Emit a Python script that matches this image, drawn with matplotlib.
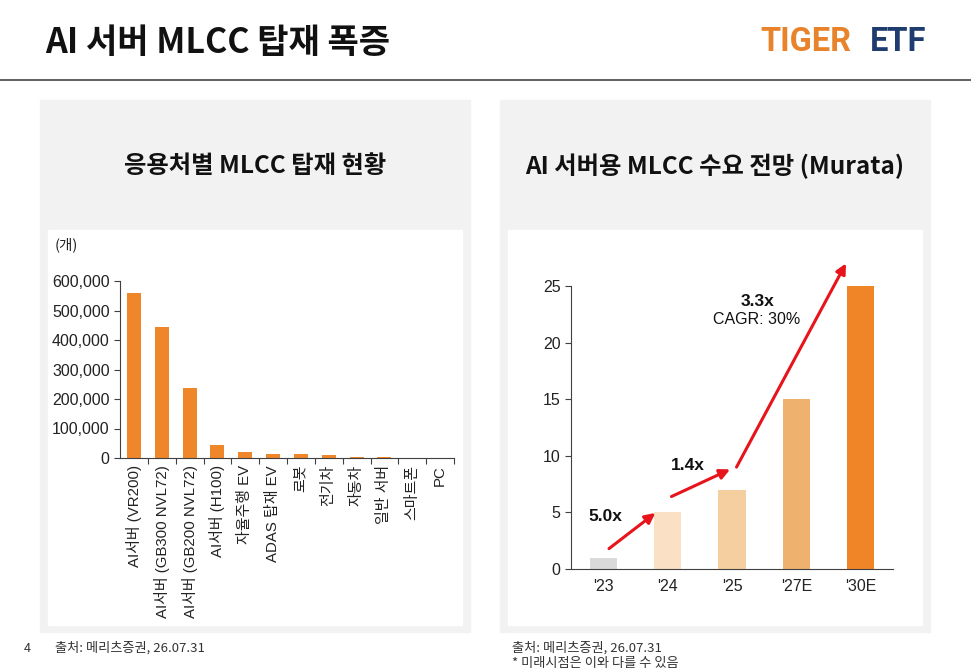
"""AI 서버 MLCC 탑재 폭증 - two bar charts on a slide layout."""

import matplotlib
import matplotlib.pyplot as plt
from matplotlib.patches import Rectangle
from matplotlib.ticker import FuncFormatter

matplotlib.use("Agg")

plt.rcParams["font.family"] = ["Noto Sans CJK KR", "DejaVu Sans"]

# ---------------------------------------------------------------------------
# Data
# ---------------------------------------------------------------------------

APP_LABELS = [
    "AI서버 (VR200)", "AI서버 (GB300 NVL72)", "AI서버 (GB200 NVL72)", "AI서버 (H100)",
    "자율주행 EV", "ADAS 탑재 EV", "로봇", "전기차", "자동차", "일반 서버", "스마트폰", "PC",
]
APP_VALUES = [560000, 443000, 236000, 45000, 20000, 15000, 15000, 11000, 3000, 2000, 500, 200]
APP_TICKS = [0, 100000, 200000, 300000, 400000, 500000, 600000]

YEARS = ["'23", "'24", "'25", "'27E", "'30E"]
DEMAND = [1, 5, 7, 15, 25]
DEMAND_COLOURS = ["#d9d9d9", "#fae0c4", "#f6cfa1", "#efb26e", "#f08528"]
DEMAND_TICKS = [0, 5, 10, 15, 20, 25]

# growth arrows: (x0, y0, x1, y1) in data units, label, label position
ARROWS = [(0.09, 1.8, 0.81, 4.95), (1.06, 6.4, 1.97, 8.8), (2.07, 9.0, 3.77, 27.0)]
ARROW_TEXT = [("5.0x", 0.03, 4.6), ("1.4x", 1.32, 9.1), ("3.3x", 2.39, 23.6), ("CAGR: 30%", 2.39, 22.0)]

ORANGE = "#f0862a"
NAVY = "#1f3c6e"
W, H = 971, 671
TICK_FONT = ["Liberation Sans", "Noto Sans CJK KR"]


def fx(px):
    return px / W


def fy(py):
    return 1 - py / H


def rect(x0, y0, x1, y1):
    """Axes rect [left, bottom, width, height] from pixel box."""
    return [fx(x0), fy(y1), (x1 - x0) / W, (y1 - y0) / H]


def style_axes(ax):
    for side in ("top", "right"):
        ax.spines[side].set_visible(False)
    for side in ("left", "bottom"):
        ax.spines[side].set_color("#404040")
        ax.spines[side].set_linewidth(0.8)
    ax.set_facecolor("white")
    ax.tick_params(colors="#404040", labelcolor="#222222", labelsize=11.5, length=4, width=0.8)
    for lbl in ax.get_yticklabels():
        lbl.set_family(TICK_FONT)


fig = plt.figure(figsize=(W / 100, H / 100), dpi=100)

# ── Header ─────────────────────────────────────────────────────────────────
fig.text(fx(45), fy(42), "AI 서버 MLCC 탑재 폭증", fontsize=24.5, fontweight="bold",
         va="center", ha="left", color="#111111")
fig.text(fx(851), fy(42), "TIGER", fontsize=23.5, fontweight="bold", color="#e8822b",
         va="center", ha="right", family=["Roboto"])
fig.text(fx(926), fy(42), "ETF", fontsize=23.5, fontweight="bold", color=NAVY,
         va="center", ha="right", family=["Roboto"])
fig.add_artist(plt.Line2D([0, 1], [fy(80), fy(80)], color="#444444", lw=1.2))

# ── Panels ─────────────────────────────────────────────────────────────────
for x0, x1 in ((40, 470), (500, 930)):
    fig.add_artist(Rectangle((fx(x0), fy(632)), (x1 - x0) / W, 532 / H,
                             transform=fig.transFigure, color="#f2f2f2", zorder=0))
    fig.add_artist(Rectangle((fx(x0 + 8), fy(625)), (x1 - x0 - 16) / W, 395 / H,
                             transform=fig.transFigure, color="white", zorder=0))

fig.text(fx(255), fy(166), "응용처별 MLCC 탑재 현황", fontsize=17.5, fontweight="bold",
         ha="center", va="center", color="#111111")
fig.text(fx(715), fy(166), "AI 서버용 MLCC 수요 전망 (Murata)", fontsize=17.5, fontweight="bold",
         ha="center", va="center", color="#111111")

# ── Left chart ─────────────────────────────────────────────────────────────
ax1 = fig.add_axes(rect(120, 281, 454, 458))
x = range(len(APP_VALUES))
ax1.bar(x, APP_VALUES, width=0.5, color=ORANGE)
ax1.set_xlim(-0.5, len(APP_VALUES) - 0.5)
ax1.set_ylim(0, 600000)
ax1.set_yticks(APP_TICKS)
ax1.yaxis.set_major_formatter(FuncFormatter(lambda v, _: f"{v:,.0f}"))
ax1.set_xticks([i + 0.5 for i in range(len(APP_VALUES))])
ax1.set_xticklabels([])
ax1.set_xticks(list(x), minor=True)
ax1.set_xticklabels(APP_LABELS, minor=True, rotation=90, fontsize=10.8, color="#222222",
                    family=TICK_FONT)
ax1.tick_params(axis="x", which="minor", length=0, pad=5)
ax1.tick_params(axis="x", which="major", length=5)
style_axes(ax1)
fig.text(fx(55), fy(245), "(개)", fontsize=10.5, ha="left", va="center", color="#222222")

# ── Right chart ────────────────────────────────────────────────────────────
ax2 = fig.add_axes(rect(571, 286, 893, 569))
ax2.bar(range(len(DEMAND)), DEMAND, width=0.42, color=DEMAND_COLOURS)
ax2.set_xlim(-0.5, len(DEMAND) - 0.5)
ax2.set_ylim(0, 25)
ax2.set_yticks(DEMAND_TICKS)
ax2.set_xticks(range(len(DEMAND)))
ax2.set_xticklabels(YEARS, fontsize=12, family=TICK_FONT)
style_axes(ax2)
ax2.tick_params(axis="x", length=0, pad=7)

for x0, y0, x1, y1 in ARROWS:
    ax2.annotate("", xy=(x1, y1), xytext=(x0, y0), annotation_clip=False,
                 arrowprops=dict(arrowstyle="-|>,head_length=0.6,head_width=0.3",
                                 color="#e8141b", lw=2.2, shrinkA=0, shrinkB=0))
for label, tx, ty in ARROW_TEXT:
    weight = "normal" if label.startswith("CAGR") else "bold"
    size = 11.5 if label.startswith("CAGR") else 12.5
    ax2.text(tx, ty, label, ha="center", va="center", fontsize=size, color="#111111",
             fontweight=weight, clip_on=False, family=TICK_FONT)

# ── Footer ─────────────────────────────────────────────────────────────────
fig.text(fx(24), fy(648), "4", fontsize=9, ha="left", va="center", color="#333333")
fig.text(fx(55), fy(648), "출처: 메리츠증권, 26.07.31", fontsize=9.5, ha="left", va="center", color="#333333")
fig.text(fx(512), fy(648), "출처: 메리츠증권, 26.07.31", fontsize=9.5, ha="left", va="center", color="#333333")
fig.text(fx(512), fy(664), "* 미래시점은 이와 다를 수 있음", fontsize=9.5, ha="left", va="center", color="#333333")

fig.savefig("out.png", dpi=100)
plt.close(fig)
